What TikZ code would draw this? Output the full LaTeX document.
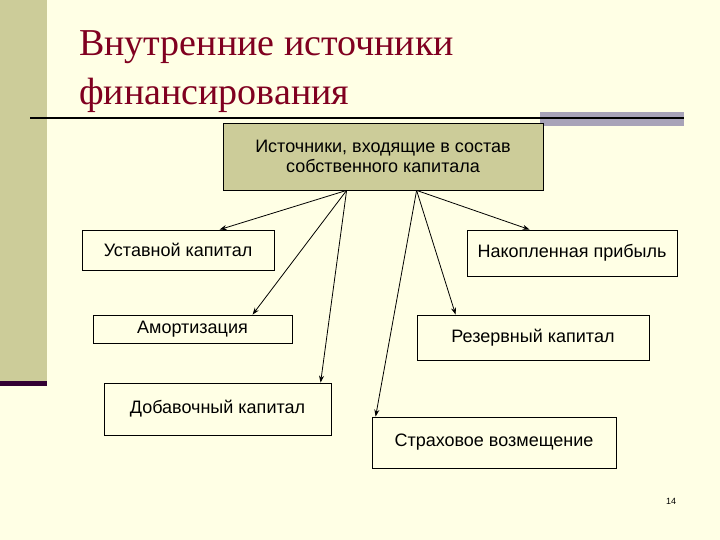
\documentclass[tikz,border=0pt]{standalone}
\usepackage{fontspec}
\setmainfont{Liberation Serif}
\newfontfamily\boxfont{Liberation Sans}
\usetikzlibrary{arrows.meta,calc}
\definecolor{bgc}{RGB}{255,255,229}
\definecolor{olivec}{RGB}{204,204,153}
\definecolor{titlec}{RGB}{128,0,32}
\definecolor{purplec}{RGB}{51,0,51}
\definecolor{grayc}{RGB}{168,163,184}
\tikzset{
  box/.style={draw=black, line width=0.8pt, rectangle, inner sep=0pt, font=\boxfont\fontsize{18}{21}\selectfont},
  arr/.style={draw=black, line width=0.8pt, -{Stealth[length=7pt,width=5pt]}},
}
\begin{document}
\begin{tikzpicture}[x=1pt,y=-1pt]
\useasboundingbox (0,0) rectangle (720,540);
\fill[bgc] (0,0) rectangle (720,540);
% left band
\fill[olivec] (0,0) rectangle (47,381);
\fill[purplec] (0,381) rectangle (47,386);
% title
\node[anchor=west, text=titlec, font=\fontsize{38}{44}\selectfont, inner sep=0pt] (t1) at (79,47) {Внутренние источники};
\node[anchor=west, text=titlec, font=\fontsize{38}{44}\selectfont, inner sep=0pt] (t2) at (79,95) {финансирования};
% rule
\fill[grayc] (540,112) rectangle (684,126);
\draw[black, line width=1.6pt] (30,118) -- (684,118);
% top box
\node[box, fill=olivec, minimum width=320pt, minimum height=67pt, align=center] (top) at (383,156.5)
  {Источники, входящие в состав\\[-1pt]собственного капитала};
% boxes
\node[box, minimum width=192pt, minimum height=40pt] (uk) at (178,250) {Уставной капитал};
\node[box, minimum width=199pt, minimum height=28pt] (am) at (192.5,329) {Амортизация};
\node[box, minimum width=227pt, minimum height=52pt] (dk) at (217.5,409) {Добавочный капитал};
\node[box, minimum width=210pt, minimum height=46pt] (np) at (572,253) {Накопленная прибыль};
\node[box, minimum width=232pt, minimum height=45pt] (rk) at (533,337.5) {Резервный капитал};
\node[box, minimum width=244pt, minimum height=51pt] (sv) at (494,442.5) {Страховое возмещение};
% sources
\coordinate (sL) at ($(top.south west)+(124,0)$);
\coordinate (sR) at ($(top.south west)+(194,0)$);
% connectors
\draw[arr] (sL) -- ($(uk.north west)+(138,0)$);
\draw[arr] (sL) -- ($(am.north west)+(160,0)$);
\draw[arr] (sL) -- ($(dk.north west)+(217,0)$);
\draw[arr] (sR) -- ($(np.north west)+(63,0)$);
\draw[arr] (sR) -- ($(rk.north west)+(39,0)$);
\draw[arr] (sR) -- ($(sv.north west)+(4,0)$);
% page number
\node[font=\boxfont\fontsize{9}{10}\selectfont, inner sep=0pt] (pg) at (671,501) {14};
\end{tikzpicture}
\end{document}
